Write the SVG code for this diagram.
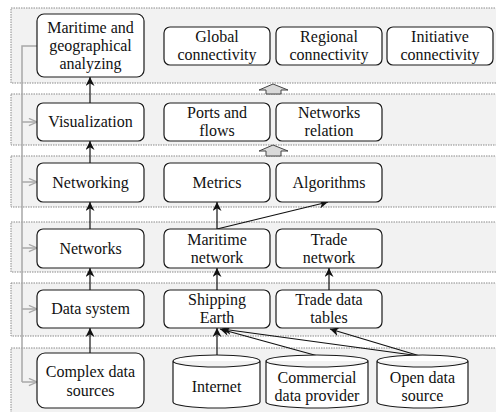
<svg xmlns="http://www.w3.org/2000/svg" width="496" height="412" viewBox="0 0 496 412">
<style>
.band{fill:#f2f2f2;stroke:#8a8a8a;stroke-width:1;stroke-dasharray:1.5 1}
.box{fill:#fff;stroke:#1a1a1a;stroke-width:1.2}
text{font-family:'Liberation Serif','DejaVu Serif','Noto Serif',serif;font-size:16px;fill:#111;text-anchor:middle}
.c{stroke:#111;stroke-width:1.2;fill:none;marker-end:url(#ah)}
.g{stroke:#a8a8a8;stroke-width:1.5;fill:none}
.ga{stroke:#a8a8a8;stroke-width:1.5;fill:none;marker-end:url(#gh)}
.blk{fill:#d9d9d9;stroke:#444;stroke-width:1}
</style>
<defs>
<marker id="ah" viewBox="0 0 10 10" refX="10" refY="5" markerWidth="9" markerHeight="9" markerUnits="userSpaceOnUse" orient="auto">
<path d="M0,0 L10,5 L0,10 L3,5 Z" fill="#111"/>
</marker>
<marker id="gh" viewBox="0 0 10 10" refX="10" refY="5" markerWidth="9" markerHeight="9" markerUnits="userSpaceOnUse" orient="auto">
<path d="M1,1 L10,5 L1,9" fill="none" stroke="#a8a8a8" stroke-width="1.5"/>
</marker>
</defs>
<g id="bands">
<rect class="band" x="11" y="8" width="495" height="75"/>
<rect class="band" x="11" y="94" width="495" height="51"/>
<rect class="band" x="11" y="156" width="495" height="51"/>
<rect class="band" x="11" y="222" width="495" height="50"/>
<rect class="band" x="11" y="283" width="495" height="53"/>
<rect class="band" x="11" y="348" width="495" height="80"/>
</g>
<g id="blockarrows">
<polygon class="blk" points="273,84 288,90 281,90 281,94 266,94 266,90 259,90"/>
<polygon class="blk" points="273,145 288,151 281,151 281,156 266,156 266,151 259,151"/>
</g>
<g id="connectors">
<polyline class="g" points="37,46 22,46 22,382"/>
<line class="ga" x1="22" y1="122" x2="37" y2="122"/>
<line class="ga" x1="22" y1="182" x2="37" y2="182"/>
<line class="ga" x1="22" y1="248" x2="37" y2="248"/>
<line class="ga" x1="22" y1="309" x2="37" y2="309"/>
<line class="ga" x1="22" y1="382" x2="37" y2="382"/>
<line class="c" x1="90" y1="103" x2="90" y2="77"/>
<line class="c" x1="90" y1="163" x2="90" y2="141"/>
<line class="c" x1="90" y1="229" x2="90" y2="202"/>
<line class="c" x1="90" y1="290" x2="90" y2="268"/>
<line class="c" x1="90" y1="353" x2="90" y2="328"/>
<line class="c" x1="217" y1="229" x2="217" y2="202"/>
<line class="c" x1="217" y1="229" x2="328" y2="202"/>
<line class="c" x1="217" y1="290" x2="217" y2="268"/>
<line class="c" x1="329" y1="290" x2="329" y2="268"/>
<line class="c" x1="217" y1="356" x2="217" y2="328"/>
<line class="c" x1="318" y1="356" x2="220" y2="329"/>
<line class="c" x1="420" y1="356" x2="222" y2="329"/>
<line class="c" x1="420" y1="356" x2="330" y2="329"/>
</g>
<g id="n-analyzing"><rect class="box" x="37" y="14" width="107" height="63" rx="7"/><text x="90.5" y="33">Maritime and</text><text x="90.5" y="51">geographical</text><text x="90.5" y="69">analyzing</text></g>
<g id="n-global"><rect class="box" x="164" y="27" width="106" height="38" rx="6"/><text x="217" y="42">Global</text><text x="217" y="60">connectivity</text></g>
<g id="n-regional"><rect class="box" x="276" y="27" width="106" height="38" rx="6"/><text x="329" y="42">Regional</text><text x="329" y="60">connectivity</text></g>
<g id="n-initiative"><rect class="box" x="387" y="27" width="106" height="38" rx="6"/><text x="440" y="42">Initiative</text><text x="440" y="60">connectivity</text></g>
<g id="n-visualization"><rect class="box" x="37" y="103" width="107" height="38" rx="6"/><text x="90.5" y="127">Visualization</text></g>
<g id="n-ports"><rect class="box" x="164" y="103" width="106" height="38" rx="6"/><text x="217" y="118">Ports and</text><text x="217" y="136">flows</text></g>
<g id="n-relation"><rect class="box" x="276" y="103" width="106" height="38" rx="6"/><text x="329" y="118">Networks</text><text x="329" y="136">relation</text></g>
<g id="n-networking"><rect class="box" x="37" y="163" width="107" height="39" rx="6"/><text x="90.5" y="188">Networking</text></g>
<g id="n-metrics"><rect class="box" x="164" y="163" width="106" height="39" rx="6"/><text x="217" y="188">Metrics</text></g>
<g id="n-algorithms"><rect class="box" x="276" y="163" width="106" height="39" rx="6"/><text x="329" y="188">Algorithms</text></g>
<g id="n-networks"><rect class="box" x="37" y="229" width="107" height="39" rx="6"/><text x="90.5" y="254">Networks</text></g>
<g id="n-maritime"><rect class="box" x="164" y="229" width="106" height="39" rx="6"/><text x="217" y="245">Maritime</text><text x="217" y="263">network</text></g>
<g id="n-trade"><rect class="box" x="276" y="229" width="106" height="39" rx="6"/><text x="329" y="245">Trade</text><text x="329" y="263">network</text></g>
<g id="n-datasystem"><rect class="box" x="37" y="290" width="107" height="38" rx="6"/><text x="90.5" y="314">Data system</text></g>
<g id="n-shipping"><rect class="box" x="164" y="290" width="106" height="38" rx="6"/><text x="217" y="305">Shipping</text><text x="217" y="323">Earth</text></g>
<g id="n-tradetables"><rect class="box" x="276" y="290" width="106" height="38" rx="6"/><text x="329" y="305">Trade data</text><text x="329" y="323">tables</text></g>
<g id="n-complex"><rect class="box" x="37" y="353" width="107" height="55" rx="8"/><text x="90.5" y="377">Complex data</text><text x="90.5" y="396">sources</text></g>
<g id="n-internet"><path class="box" d="M173,361 A43.5,6 0 0 1 260,361 L260,402 A43.5,6 0 0 1 173,402 Z M173,361 A43.5,6 0 0 0 260,361"/><text x="216.5" y="392">Internet</text></g>
<g id="n-commercial"><path class="box" d="M266,361 A51,6 0 0 1 368,361 L368,402 A51,6 0 0 1 266,402 Z M266,361 A51,6 0 0 0 368,361"/><text x="317" y="383">Commercial</text><text x="317" y="401">data provider</text></g>
<g id="n-open"><path class="box" d="M377,361 A45.5,6 0 0 1 468,361 L468,402 A45.5,6 0 0 1 377,402 Z M377,361 A45.5,6 0 0 0 468,361"/><text x="422.5" y="383">Open data</text><text x="422.5" y="401">source</text></g>
</svg>
